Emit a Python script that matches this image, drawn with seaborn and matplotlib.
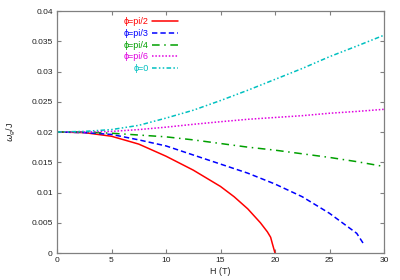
import pandas as pd
import seaborn as sns
import matplotlib.pyplot as plt

# values
h_red = [0, 2.5, 5, 7.5, 10, 12.5, 15, 16.25, 17.5, 18.66, 19.3, 19.6, 19.75, 20]
w_red = [0.0200, 0.0199, 0.0193, 0.0180, 0.0160, 0.0137, 0.0110, 0.0093, 0.0073, 0.0050, 0.0035, 0.0026, 0.0016, 0.0]

h_main = [0, 2.5, 5, 7.5, 10, 12.5, 15, 17.5, 20, 22.5, 25, 27.5, 30]
h_blue = [0, 2.5, 5, 7.5, 10, 12.5, 15, 17.5, 20, 22.5, 25, 27.5, 28.2]
w_blue = [0.0200, 0.0199, 0.0196, 0.0187, 0.0177, 0.0162, 0.0147, 0.0132, 0.0114, 0.0093, 0.00656, 0.00325, 0.0013]
w_green = [0.0200, 0.0200, 0.0198, 0.0195, 0.0192, 0.0187, 0.0181, 0.0175, 0.0170, 0.0164, 0.0158, 0.0151, 0.0143]
w_magenta = [0.0200, 0.0200, 0.0201, 0.0204, 0.0208, 0.02127, 0.0217, 0.0221, 0.0224, 0.0227, 0.0231, 0.0234, 0.02375]
w_cyan = [0.0200, 0.0201, 0.0204, 0.0211, 0.0223, 0.0236, 0.0252, 0.0269, 0.0287, 0.0305, 0.03245, 0.0342, 0.0360]

labels = ['ϕ=pi/2', 'ϕ=pi/3', 'ϕ=pi/4', 'ϕ=pi/6', 'ϕ=0']
colors = ['#ff0000', '#0000ff', '#00a000', '#e000e0', '#00c0c0']

series = [(h_red, w_red), (h_blue, w_blue), (h_main, w_green), (h_main, w_magenta), (h_main, w_cyan)]
rows = []
for lab, (hs, ws) in zip(labels, series):
    for h, w in zip(hs, ws):
        rows.append({'H': h, 'w': w, 'phi': lab})
df = pd.DataFrame(rows)

sns.set_theme(style="ticks")
plt.rcParams['font.family'] = ['Liberation Sans', 'DejaVu Sans']

fig = plt.figure(figsize=(4, 2.8), dpi=100)
ax = fig.add_axes([0.1425, 0.0964, 0.8175, 0.8643])

dashes = {
    labels[0]: '',
    labels[1]: (3.5, 2),
    labels[2]: (5, 3, 1, 3),
    labels[3]: (1, 1.2),
    labels[4]: (3, 1.5, 1, 1.5, 1, 1.5),
}
sns.lineplot(data=df, x='H', y='w', hue='phi', style='phi', palette=dict(zip(labels, colors)),
             dashes=dashes, sort=False, linewidth=1.1, legend=False, ax=ax)

ax.set_xlim(0, 30)
ax.set_ylim(0, 0.04)
ax.set_xticks([0, 5, 10, 15, 20, 25, 30])
ax.set_yticks([0, 0.005, 0.01, 0.015, 0.02, 0.025, 0.03, 0.035, 0.04])
ax.set_yticklabels(['0', '0.005', '0.01', '0.015', '0.02', '0.025', '0.03', '0.035', '0.04'])
ax.tick_params(direction='in', top=True, right=True, length=3, width=0.8, color='#808080',
               labelsize=6, pad=3, labelcolor='#202020')
for s in ax.spines.values():
    s.set_color('#808080')
    s.set_linewidth(0.9)
ax.set_xlabel('H (T)', fontsize=6.5, labelpad=2)
ax.set_ylabel(r'$\omega_g$/J', fontsize=6.5, labelpad=10)

ax.legend(ax.lines, labels, loc='upper left', bbox_to_anchor=(0.185, 1.0), markerfirst=False,
          labelcolor='linecolor', frameon=False, fontsize=6.5, handlelength=2.9,
          labelspacing=0.3, handletextpad=0.35, borderaxespad=0.3)

fig.savefig('out.png', dpi=100)
